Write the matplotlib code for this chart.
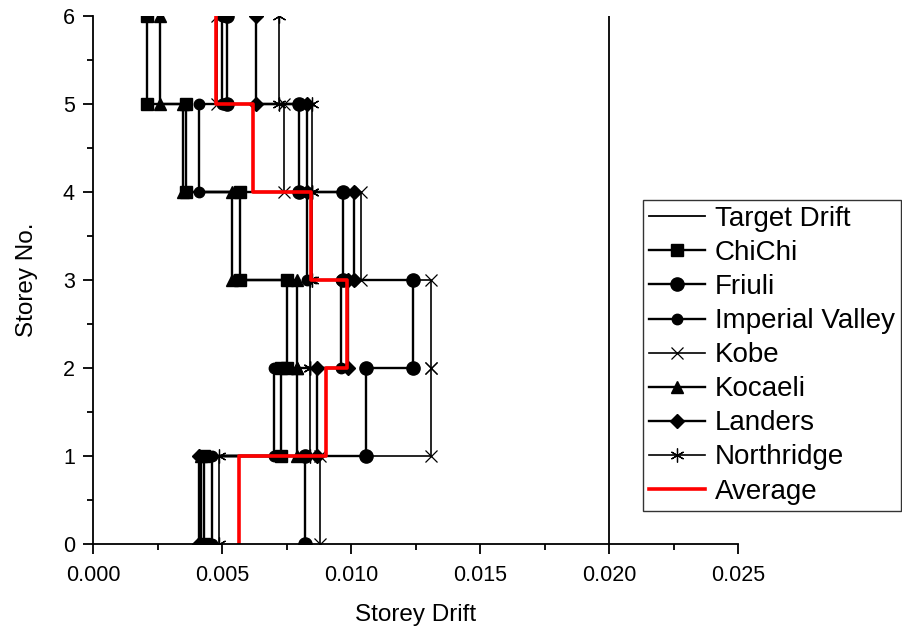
import numpy as np
import matplotlib
matplotlib.use('Agg')
import matplotlib.pyplot as plt

plt.rcParams['font.family'] = ['Liberation Sans', 'DejaVu Sans']

# storey levels and drift per storey (storey 1 .. 6)
storeys = [0, 1, 2, 3, 4, 5, 6]
target_drift = 0.020

chichi = [0.0043, 0.0073, 0.0075, 0.0057, 0.0036, 0.0021]
friuli = [0.0082, 0.0106, 0.0124, 0.0097, 0.0080, 0.0052]
imperial_valley = [0.0046, 0.0070, 0.0096, 0.0083, 0.0041, 0.0050]
kobe = [0.0088, 0.0131, 0.0131, 0.0104, 0.0074, 0.0048]
kocaeli = [0.0042, 0.0079, 0.0079, 0.0054, 0.0035, 0.0026]
landers = [0.0041, 0.0087, 0.0099, 0.0101, 0.0083, 0.0063]
northridge = [0.0049, 0.0084, 0.0084, 0.0085, 0.0085, 0.0072]
average = [0.00566, 0.00903, 0.00985, 0.00845, 0.0062, 0.00477]


def step_profile(drifts):
    # each drift value spans its storey as a vertical segment
    xs = np.repeat(drifts, 2)
    ys = np.repeat(storeys, 2)[1:-1]
    return xs, ys


fig = plt.figure(figsize=(9.02, 6.30), dpi=100)
ax = fig.add_axes([93 / 902, 1 - 544 / 630, (738 - 93) / 902, (544 - 16) / 630])

ax.axvline(target_drift, color='black', lw=1.3, label='Target Drift')

series = [
    ('ChiChi', chichi, dict(marker='s', ms=8.5, lw=1.7)),
    ('Friuli', friuli, dict(marker='o', ms=9.5, lw=1.7)),
    ('Imperial Valley', imperial_valley, dict(marker='o', ms=7.5, lw=1.7)),
    ('Kobe', kobe, dict(marker='x', ms=9, lw=1.2, mew=0.9)),
    ('Kocaeli', kocaeli, dict(marker='^', ms=9, lw=1.7)),
    ('Landers', landers, dict(marker='D', ms=7.5, lw=1.7)),
    ('Northridge', northridge, dict(marker=(6, 2, 0), ms=10, lw=1.2, mew=0.9)),
]
for name, vals, style in series:
    xs, ys = step_profile(vals)
    ax.plot(xs, ys, color='black', mfc='black', mec='black', label=name, **style)

xs, ys = step_profile(average)
ax.plot(xs, ys, color='red', lw=2.6, label='Average')

ax.set_xlim(0, 0.025)
ax.set_ylim(0, 6)
ax.set_xticks(np.arange(0, 0.0251, 0.005))
ax.set_xticks(np.arange(0, 0.0251, 0.0025), minor=True)
ax.set_xticklabels(['%.3f' % v for v in np.arange(0, 0.0251, 0.005)])
ax.set_yticks(storeys)
ax.set_yticks(np.arange(0, 6.01, 0.5), minor=True)

ax.spines['top'].set_visible(False)
ax.spines['right'].set_visible(False)
for s in ('left', 'bottom'):
    ax.spines[s].set_linewidth(1.3)
ax.tick_params(which='major', direction='out', length=7, width=1.3, labelsize=15.5, pad=6)
ax.tick_params(axis='x', which='major', pad=8)
ax.tick_params(which='minor', direction='out', length=4, width=1.3)

ax.set_xlabel('Storey Drift', fontsize=17.5, labelpad=13)
ax.set_ylabel('Storey No.', fontsize=17.5, labelpad=18)

leg = fig.legend(loc='upper left', bbox_to_anchor=(643 / 902, 1 - 200 / 630),
                 fontsize=20, frameon=True, fancybox=False, handlelength=2.0,
                 handletextpad=0.36, labelspacing=0.29, borderpad=0.22,
                 borderaxespad=0)
leg.get_frame().set_edgecolor('black')
leg.get_frame().set_linewidth(1.0)

fig.savefig('out.png', dpi=100)
